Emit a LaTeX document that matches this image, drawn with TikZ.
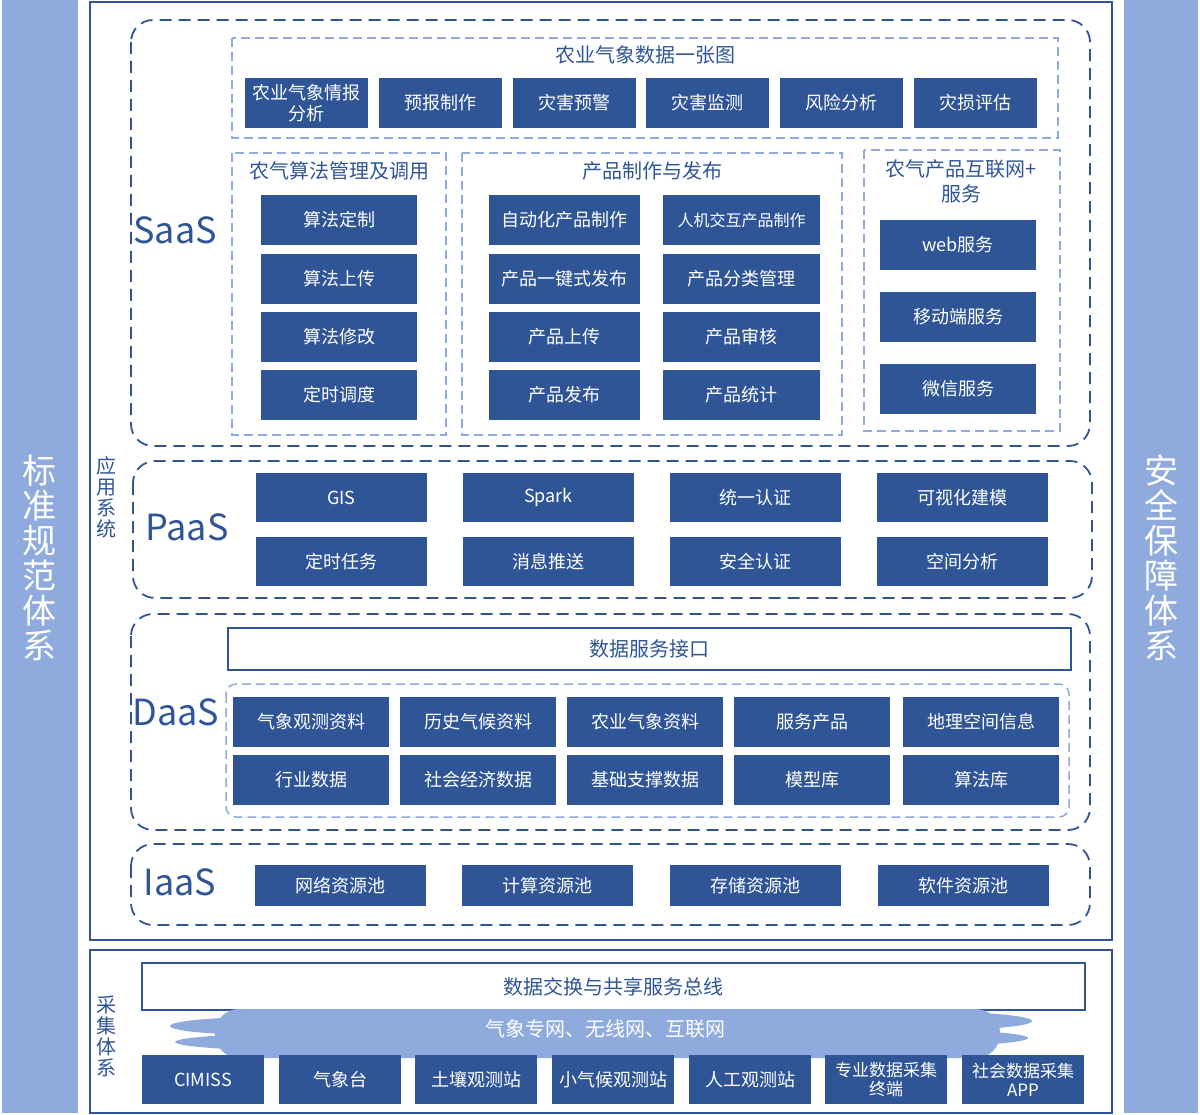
\documentclass[tikz,border=0pt]{standalone}
\usepackage{fontspec}
\setmainfont{Noto Sans CJK SC}
\definecolor{dkblue}{HTML}{2F5597}
\definecolor{ltblue}{HTML}{8FAADC}
\tikzset{
  blk/.style={fill=dkblue, text=white, inner sep=0pt, align=center,
    font=\fontsize{18}{20}\selectfont},
  ttl/.style={text=dkblue, inner sep=0pt, align=center,
    font=\fontsize{20}{24}\selectfont},
  lyr/.style={text=dkblue, inner sep=0pt, font=\fontsize{36}{40}\selectfont},
  vtxt/.style={text=dkblue, inner sep=0pt, align=center,
    font=\fontsize{20}{21}\selectfont},
  side/.style={text=white, inner sep=0pt, align=center,
    font=\fontsize{34}{35}\selectfont},
  layer/.style={dkblue, line width=1.8pt, dash pattern=on 12pt off 7pt, rounded corners=22pt},
  grp/.style={ltblue, line width=1.5pt, dash pattern=on 9pt off 5pt},
}
\begin{document}
\begin{tikzpicture}[x=1pt, y=-1pt]
   \useasboundingbox (0,0) rectangle (1200,1115);
   % side bars
   \fill[ltblue] (2,0) rectangle (78,1113);
   \fill[ltblue] (1124,0) rectangle (1198,1113);
   \node[side] (std) at (40,558) {标\\准\\规\\范\\体\\系};
   \node[side] (sec) at (1161,558) {安\\全\\保\\障\\体\\系};
   % frames
   \draw[dkblue, line width=1.5pt] (90,2) rectangle (1112,940);
   \draw[dkblue, line width=1.5pt] (90,950) rectangle (1112,1113);
   \node[vtxt] (app) at (106,497) {应\\用\\系\\统};
   \node[vtxt] (col) at (106,1036) {采\\集\\体\\系};
   % SaaS
   \draw[layer] (131,20) rectangle (1090,446);
   \node[lyr] (saas) at (175,230) {SaaS};
   \draw[grp] (232,38) rectangle (1058,138);
   \node[ttl] (map) at (645,55) {农业气象数据一张图};
   \node[blk, minimum width=123, minimum height=50, font=\fontsize{18}{21}\selectfont] (m1) at (306.5,103) {农业气象情报\\分析};
   \node[blk, minimum width=123, minimum height=50] (m2) at (440.5,103) {预报制作};
   \node[blk, minimum width=123, minimum height=50] (m3) at (574.5,103) {灾害预警};
   \node[blk, minimum width=123, minimum height=50] (m4) at (707.5,103) {灾害监测};
   \node[blk, minimum width=123, minimum height=50] (m5) at (841.5,103) {风险分析};
   \node[blk, minimum width=123, minimum height=50] (m6) at (975.5,103) {灾损评估};
   \draw[grp] (232,153) rectangle (446,435);
   \node[ttl] (alg) at (339,171) {农气算法管理及调用};
   \node[blk, minimum width=156, minimum height=50] (a1) at (339,220) {算法定制};
   \node[blk, minimum width=156, minimum height=50] (a2) at (339,279) {算法上传};
   \node[blk, minimum width=156, minimum height=50] (a3) at (339,337) {算法修改};
   \node[blk, minimum width=156, minimum height=50] (a4) at (339,395) {定时调度};
   \draw[grp] (462,153) rectangle (842,435);
   \node[ttl] (prd) at (652,171) {产品制作与发布};
   \node[blk, minimum width=151, minimum height=50] (p1) at (564.5,220) {自动化产品制作};
   \node[blk, minimum width=157, minimum height=50, font=\fontsize{16}{20}\selectfont] (p2) at (741.5,220) {人机交互产品制作};
   \node[blk, minimum width=151, minimum height=50] (p3) at (564.5,279) {产品一键式发布};
   \node[blk, minimum width=157, minimum height=50] (p4) at (741.5,279) {产品分类管理};
   \node[blk, minimum width=151, minimum height=50] (p5) at (564.5,337) {产品上传};
   \node[blk, minimum width=157, minimum height=50] (p6) at (741.5,337) {产品审核};
   \node[blk, minimum width=151, minimum height=50] (p7) at (564.5,395) {产品发布};
   \node[blk, minimum width=157, minimum height=50] (p8) at (741.5,395) {产品统计};
   \draw[grp] (864,150) rectangle (1060,431);
   \node[ttl, font=\fontsize{20}{25}\selectfont] (web) at (961,181) {农气产品互联网+\\服务};
   \node[blk, minimum width=156, minimum height=50] (w1) at (958,245) {web服务};
   \node[blk, minimum width=156, minimum height=50] (w2) at (958,317) {移动端服务};
   \node[blk, minimum width=156, minimum height=50] (w3) at (958,389) {微信服务};
   % PaaS
   \draw[layer] (133,461) rectangle (1092,598);
   \node[lyr] (paas) at (187,527) {PaaS};
   \node[blk, minimum width=171, minimum height=49] (f1) at (341.5,497.5) {GIS};
   \node[blk, minimum width=171, minimum height=49] (f2) at (548.5,497.5) {Spark};
   \node[blk, minimum width=171, minimum height=49] (f3) at (755.5,497.5) {统一认证};
   \node[blk, minimum width=171, minimum height=49] (f4) at (962.5,497.5) {可视化建模};
   \node[blk, minimum width=171, minimum height=49] (f5) at (341.5,561.5) {定时任务};
   \node[blk, minimum width=171, minimum height=49] (f6) at (548.5,561.5) {消息推送};
   \node[blk, minimum width=171, minimum height=49] (f7) at (755.5,561.5) {安全认证};
   \node[blk, minimum width=171, minimum height=49] (f8) at (962.5,561.5) {空间分析};
   % DaaS
   \draw[layer] (131,614) rectangle (1090,830);
   \node[lyr] (daas) at (176,712) {DaaS};
   \node[draw=dkblue, line width=1.5pt, fill=white, minimum width=843, minimum height=42, ttl] (api) at (649.5,649) {数据服务接口};
   \draw[grp, rounded corners=10pt] (226,684) rectangle (1069,817);
   \node[blk, minimum width=156, minimum height=50] (d1) at (311,722) {气象观测资料};
   \node[blk, minimum width=156, minimum height=50] (d2) at (478,722) {历史气候资料};
   \node[blk, minimum width=156, minimum height=50] (d3) at (645,722) {农业气象资料};
   \node[blk, minimum width=156, minimum height=50] (d4) at (812,722) {服务产品};
   \node[blk, minimum width=156, minimum height=50] (d5) at (981,722) {地理空间信息};
   \node[blk, minimum width=156, minimum height=50] (d6) at (311,780) {行业数据};
   \node[blk, minimum width=156, minimum height=50] (d7) at (478,780) {社会经济数据};
   \node[blk, minimum width=156, minimum height=50] (d8) at (645,780) {基础支撑数据};
   \node[blk, minimum width=156, minimum height=50] (d9) at (812,780) {模型库};
   \node[blk, minimum width=156, minimum height=50] (d10) at (981,780) {算法库};
   % IaaS
   \draw[layer] (131,844) rectangle (1090,925);
   \node[lyr] (iaas) at (180,882) {IaaS};
   \node[blk, minimum width=171, minimum height=41] (i1) at (340,885.5) {网络资源池};
   \node[blk, minimum width=171, minimum height=41] (i2) at (547.5,885.5) {计算资源池};
   \node[blk, minimum width=171, minimum height=41] (i3) at (755.5,885.5) {存储资源池};
   \node[blk, minimum width=171, minimum height=41] (i4) at (963.5,885.5) {软件资源池};
   % collection
   \node[draw=dkblue, line width=1.2pt, fill=white, minimum width=943, minimum height=47, ttl] (bus) at (613.5,986.5) {数据交换与共享服务总线};
   \fill[ltblue, rounded corners=24pt] (215,1009) rectangle (1000,1058);
   \fill[ltblue] (268,1026) ellipse (98 and 9);
   \fill[ltblue] (400,1042) ellipse (225 and 11);
   \fill[ltblue] (910,1021) ellipse (122 and 10);
   \fill[ltblue] (890,1038) ellipse (138 and 9);
   \node[blk, fill=none, font=\fontsize{20}{22}\selectfont] (net) at (605,1029) {气象专网、无线网、互联网};
   \node[blk, minimum width=122, minimum height=49] (c1) at (203,1079.5) {CIMISS};
   \node[blk, minimum width=122, minimum height=49] (c2) at (340,1079.5) {气象台};
   \node[blk, minimum width=122, minimum height=49] (c3) at (476,1079.5) {土壤观测站};
   \node[blk, minimum width=122, minimum height=49] (c4) at (613,1079.5) {小气候观测站};
   \node[blk, minimum width=122, minimum height=49] (c5) at (750,1079.5) {人工观测站};
   \node[blk, minimum width=122, minimum height=49, font=\fontsize{17}{19}\selectfont] (c6) at (886,1079.5) {专业数据采集\\终端};
   \node[blk, minimum width=122, minimum height=49, font=\fontsize{17}{19}\selectfont] (c7) at (1023,1079.5) {社会数据采集\\APP};
\end{tikzpicture}
\end{document}
